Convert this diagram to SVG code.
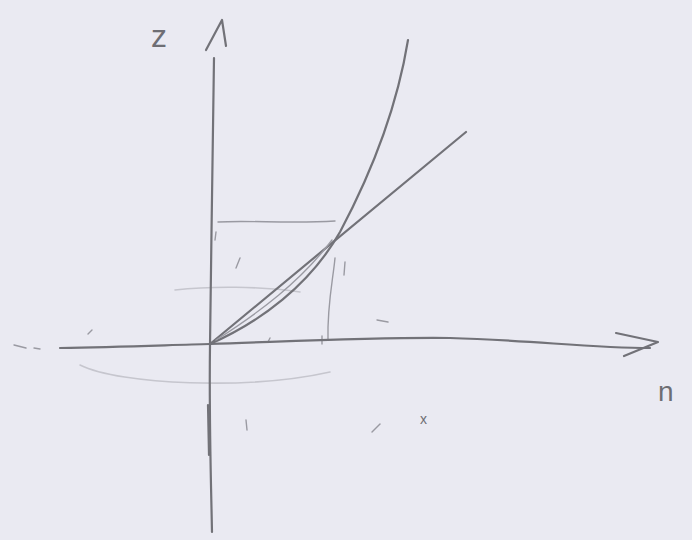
<svg xmlns="http://www.w3.org/2000/svg" width="692" height="540" viewBox="0 0 692 540">
<style>
.p{fill:none;stroke:#727278;stroke-width:2.2;stroke-linecap:round;stroke-linejoin:round}
.f{fill:none;stroke:#9a9aa2;stroke-width:1.4;stroke-linecap:round}
.ff{fill:none;stroke:#c6c6ce;stroke-width:1.6;stroke-linecap:round}
.t{font-family:"Liberation Sans",sans-serif;fill:#6e6e74;font-weight:normal}
</style>
<rect width="692" height="540" fill="#eaeaf2"/>
<g id="faint">
<path class="ff" d="M175,290 C210,286 260,286 300,292"/>
<path class="ff" d="M80,365 C120,385 250,390 330,372"/>
<path class="f" d="M218,222 C250,220 290,224 335,221"/>
<path class="f" d="M216,232 L215,240"/>
<path class="f" d="M335,258 C333,280 327,305 328,340"/>
<path class="f" d="M345,262 L344,275"/>
<path class="f" d="M240,258 L236,268"/>
<path class="f" d="M377,320 L388,322"/>
<path class="f" d="M88,334 L92,330"/>
<path class="f" d="M14,345 L26,348 M34,348 L40,349"/>
<path class="f" d="M246,420 L247,430"/>
<path class="f" d="M372,432 L380,424"/>
<path class="f" d="M268,342 L270,338 M322,336 L322,344"/>
</g>
<g id="axes">
<path class="p" d="M214,58 C213,150 211,250 210,345 C209,420 211,480 212,532"/>
<path class="p" d="M206,50 L222,20 L226,46"/>
<path class="p" d="M208,405 L209,455" stroke-width="3"/>
<path class="p" d="M60,348 C120,347 170,345 210,344 C300,341 380,337 450,338 C530,340 590,348 650,348"/>
<path class="p" d="M616,333 L658,342 L624,356"/>
</g>
<g id="connectors">
<path class="p" d="M210,344 L466,132"/>
<path class="p" d="M210,344 C260,322 310,285 340,232 C365,185 395,120 408,40"/>
<path class="f" d="M216,340 C260,312 300,282 332,240"/>
</g>
<g id="labels">
<text class="t" x="151" y="47" font-size="32">z</text>
<text class="t" x="658" y="401" font-size="28">n</text>
<text class="t" x="420" y="424" font-size="14" fill="#9a9aa2">x</text>
</g>
</svg>
